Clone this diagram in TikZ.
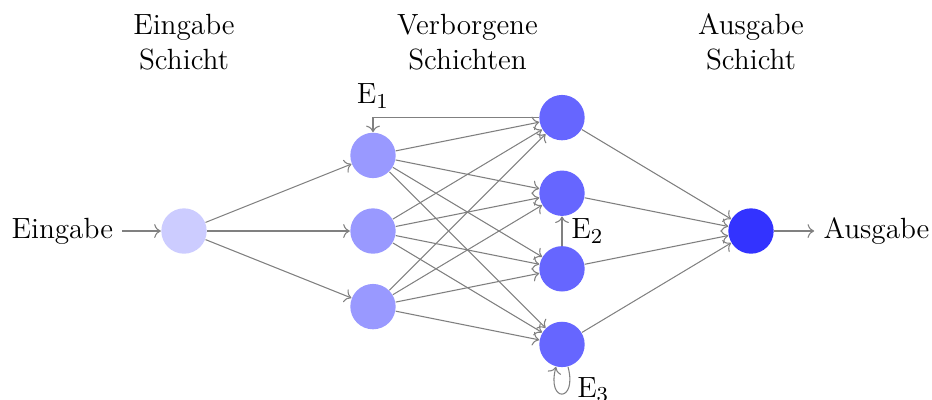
\documentclass[tikz,border=0pt]{standalone}
\usepackage{tikz}
\usetikzlibrary{arrows, arrows.meta, positioning}

\begin{document}
\begin{tikzpicture}[
		neuron/.style={circle, minimum size=0.6cm, inner sep=0pt},
		conn/.style={->, gray},
		font=\fontsize{11}{13}\selectfont
	]
				% Frame
				\useasboundingbox (-2.434,-2.222) rectangle (9.894,3.056);
				
				% Layer titles
				\node[align=center] (t1) at (0,2.5) {Eingabe\\Schicht};
				\node[align=center] (t2) at (3.75,2.5) {Verborgene\\Schichten};
				\node[align=center] (t3) at (7.5,2.5) {Ausgabe\\Schicht};
				
				% Neurons
				\node[neuron, fill=blue!20] (in) at (0,0) {};
				\node[neuron, fill=blue!40] (ha1) at (2.5,1) {};
				\node[neuron, fill=blue!40] (ha2) at (2.5,0) {};
				\node[neuron, fill=blue!40] (ha3) at (2.5,-1) {};
				\node[neuron, fill=blue!60] (hb1) at (5,1.5) {};
				\node[neuron, fill=blue!60] (hb2) at (5,0.5) {};
				\node[neuron, fill=blue!60] (hb3) at (5,-0.5) {};
				\node[neuron, fill=blue!60] (hb4) at (5,-1.5) {};
				\node[neuron, fill=blue!80] (out) at (7.5,0) {};
				
				% Input and output
				\node (x) at (-1.61,0) {Eingabe};
				\node (y) at (9.16,0) {Ausgabe};
				\draw[conn] (x) -- (in);
				\draw[conn] (out) -- (y);
				
				% Input to first hidden layer
				\draw[conn] (in) -- (ha1);
				\draw[conn] (in) -- (ha2);
				\draw[conn] (in) -- (ha3);
				
				% First to second hidden layer
				\draw[conn] (ha1) -- (hb1);
				\draw[conn] (ha1) -- (hb2);
				\draw[conn] (ha1) -- (hb3);
				\draw[conn] (ha1) -- (hb4);
				\draw[conn] (ha2) -- (hb1);
				\draw[conn] (ha2) -- (hb2);
				\draw[conn] (ha2) -- (hb3);
				\draw[conn] (ha2) -- (hb4);
				\draw[conn] (ha3) -- (hb1);
				\draw[conn] (ha3) -- (hb2);
				\draw[conn] (ha3) -- (hb3);
				\draw[conn] (ha3) -- (hb4);
				
				% Second hidden layer to output
				\draw[conn] (hb1) -- (out);
				\draw[conn] (hb2) -- (out);
				\draw[conn] (hb3) -- (out);
				\draw[conn] (hb4) -- (out);
				
				% Feedback
				\draw[conn] (hb1) -| node[pos=0.5, above, black] {E$_1$} (ha1);
				\draw[conn] (hb3) -- node[right, black] {E$_2$} (hb2);
				\draw[conn] (hb4) to[loop below, looseness=8] node[pos=0.3, right, black] {E$_3$} (hb4);
			\end{tikzpicture}
\end{document}
